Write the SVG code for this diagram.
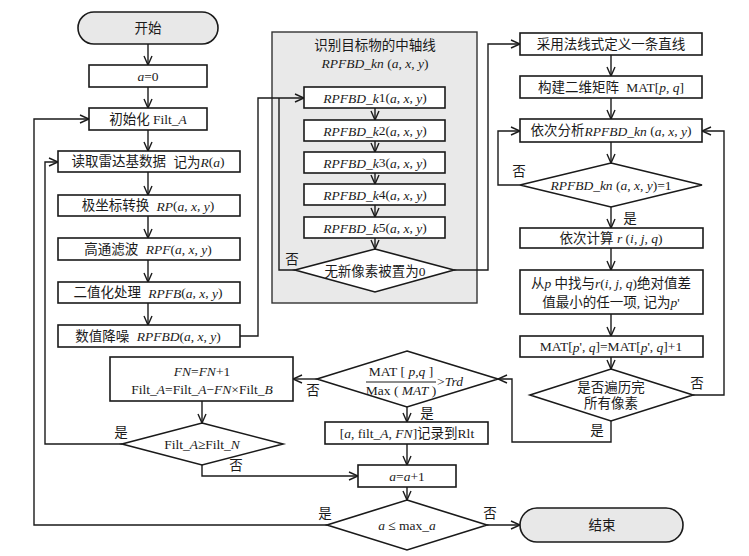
<svg xmlns="http://www.w3.org/2000/svg" width="749" height="556" viewBox="0 0 749 556">
<style>
text{font-family:"Liberation Serif","Noto Sans CJK SC",serif;font-size:13.5px;fill:#1a1a1a;text-anchor:middle;dominant-baseline:central}
.i{font-style:italic}
.box{fill:#fff;stroke:#1a1a1a;stroke-width:1.6}
.term{fill:#e8e8e8;stroke:#1a1a1a;stroke-width:1.6}
.grp{fill:#e9e9e9;stroke:#333;stroke-width:1.4}
.ln{fill:none;stroke:#1a1a1a;stroke-width:1.4}
.ar{fill:none;stroke:#1a1a1a;stroke-width:1.4;marker-end:url(#a)}
</style>
<defs>
<marker id="a" viewBox="0 0 10 10" refX="10" refY="5" markerWidth="10" markerHeight="10" markerUnits="userSpaceOnUse" orient="auto">
<path d="M1,1 L10,5 L1,9" fill="none" stroke="#1a1a1a" stroke-width="1.4"/>
</marker>
</defs>
<rect class="grp" x="272" y="32" width="205" height="271"/>
<g id="start"><rect class="term" x="78" y="12" width="140" height="32" rx="16"/><text x="148" y="28">开始</text></g>
<g id="a0"><rect class="box" x="89" y="65" width="118" height="22"/><text x="148" y="76"><tspan class="i">a</tspan>=0</text></g>
<g id="init"><rect class="box" x="89" y="108" width="118" height="22"/><text x="148" y="119">初始化 Filt_<tspan class="i">A</tspan></text></g>
<g id="read"><rect class="box" x="58" y="151" width="182" height="21"/><text x="148" y="161.5">读取雷达基数据 <tspan dx="4">记为</tspan><tspan class="i">R</tspan>(<tspan class="i">a</tspan>)</text></g>
<g id="polar"><rect class="box" x="58" y="195" width="182" height="21"/><text x="148" y="205.5">极坐标转换 <tspan dx="4" class="i">RP</tspan>(<tspan class="i">a</tspan>, <tspan class="i">x</tspan>, <tspan class="i">y</tspan>)</text></g>
<g id="hpf"><rect class="box" x="58" y="238" width="182" height="22"/><text x="148" y="249">高通滤波 <tspan dx="4" class="i">RPF</tspan>(<tspan class="i">a</tspan>, <tspan class="i">x</tspan>, <tspan class="i">y</tspan>)</text></g>
<g id="bin"><rect class="box" x="58" y="282" width="182" height="21"/><text x="148" y="292.5">二值化处理 <tspan dx="4" class="i">RPFB</tspan>(<tspan class="i">a</tspan>, <tspan class="i">x</tspan>, <tspan class="i">y</tspan>)</text></g>
<g id="denoise"><rect class="box" x="58" y="325" width="182" height="22"/><text x="148" y="336">数值降噪 <tspan dx="4" class="i">RPFBD</tspan>(<tspan class="i">a</tspan>, <tspan class="i">x</tspan>, <tspan class="i">y</tspan>)</text></g>
<g id="axis-title"><text x="375" y="45">识别目标物的中轴线</text><text x="375" y="63"><tspan class="i">RPFBD_kn</tspan> (<tspan class="i">a</tspan>, <tspan class="i">x</tspan>, <tspan class="i">y</tspan>)</text></g>
<g id="k1"><rect class="box" x="304" y="87" width="141" height="21"/><text x="375" y="97.5"><tspan class="i">RPFBD_k</tspan>1(<tspan class="i">a</tspan>, <tspan class="i">x</tspan>, <tspan class="i">y</tspan>)</text></g>
<g id="k2"><rect class="box" x="304" y="120" width="141" height="21"/><text x="375" y="130.5"><tspan class="i">RPFBD_k</tspan>2(<tspan class="i">a</tspan>, <tspan class="i">x</tspan>, <tspan class="i">y</tspan>)</text></g>
<g id="k3"><rect class="box" x="304" y="152" width="141" height="21"/><text x="375" y="162.5"><tspan class="i">RPFBD_k</tspan>3(<tspan class="i">a</tspan>, <tspan class="i">x</tspan>, <tspan class="i">y</tspan>)</text></g>
<g id="k4"><rect class="box" x="304" y="184" width="141" height="21"/><text x="375" y="194.5"><tspan class="i">RPFBD_k</tspan>4(<tspan class="i">a</tspan>, <tspan class="i">x</tspan>, <tspan class="i">y</tspan>)</text></g>
<g id="k5"><rect class="box" x="304" y="217" width="141" height="21"/><text x="375" y="227.5"><tspan class="i">RPFBD_k</tspan>5(<tspan class="i">a</tspan>, <tspan class="i">x</tspan>, <tspan class="i">y</tspan>)</text></g>
<g id="nonew"><polygon class="box" points="375,249 454,270 375,292 295,270"/><text x="375" y="271">无新像素被置为0</text></g>
<g id="line"><rect class="box" x="520" y="33" width="182" height="22"/><text x="611" y="44">采用法线式定义一条直线</text></g>
<g id="mat"><rect class="box" x="520" y="76" width="182" height="22"/><text x="611" y="87">构建二维矩阵 <tspan dx="4">MAT[</tspan><tspan class="i">p</tspan>, <tspan class="i">q</tspan>]</text></g>
<g id="analyze"><rect class="box" x="520" y="119" width="182" height="23"/><text x="611" y="130.5">依次分析<tspan class="i">RPFBD_kn</tspan> (<tspan class="i">a</tspan>, <tspan class="i">x</tspan>, <tspan class="i">y</tspan>)</text></g>
<g id="is1"><polygon class="box" points="611,163 702,185 611,207 520,185"/><text x="611" y="185"><tspan class="i">RPFBD_kn</tspan> (<tspan class="i">a</tspan>, <tspan class="i">x</tspan>, <tspan class="i">y</tspan>)=1</text></g>
<g id="calc"><rect class="box" x="520" y="228" width="183" height="20"/><text x="611" y="238">依次计算 <tspan class="i">r</tspan> (<tspan class="i">i</tspan>, <tspan class="i">j</tspan>, <tspan class="i">q</tspan>)</text></g>
<g id="find"><rect class="box" x="520" y="270" width="183" height="44"/><text x="611" y="283">从<tspan class="i">p</tspan> 中找与<tspan class="i">r</tspan>(<tspan class="i">i</tspan>, <tspan class="i">j</tspan>, <tspan class="i">q</tspan>)绝对值差</text><text x="611" y="302">值最小的任一项, 记为<tspan class="i">p</tspan>'</text></g>
<g id="inc"><rect class="box" x="520" y="336" width="183" height="21"/><text x="611" y="346.5">MAT[<tspan class="i">p</tspan>', <tspan class="i">q</tspan>]=MAT[<tspan class="i">p</tspan>', <tspan class="i">q</tspan>]+1</text></g>
<g id="all"><polygon class="box" points="611,369 693,395 611,421 530,395"/><text x="611" y="387">是否遍历完</text><text x="611" y="403">所有像素</text></g>
<g id="ratio"><polygon class="box" points="407,351 498,379 407,407 317,379"/><text x="401" y="371">MAT [ <tspan class="i">p</tspan>,<tspan class="i">q</tspan> ]</text><line x1="366" y1="382" x2="436" y2="382" stroke="#1a1a1a" stroke-width="1"/><text x="401" y="390">Max ( <tspan class="i">MAT</tspan> )</text><text x="437" y="381" style="text-anchor:start">&gt;<tspan class="i">Trd</tspan></text></g>
<g id="rec"><rect class="box" x="325" y="422" width="163" height="22"/><text x="407" y="433">[<tspan class="i">a</tspan>, filt_<tspan class="i">A</tspan>, <tspan class="i">FN</tspan>]记录到Rlt</text></g>
<g id="ainc"><rect class="box" x="358" y="465" width="98" height="22"/><text x="407" y="476"><tspan class="i">a</tspan>=<tspan class="i">a</tspan>+1</text></g>
<g id="amax"><polygon class="box" points="407,500 487,525 407,550 327,525"/><text x="407" y="525"><tspan class="i">a</tspan> ≤ max_<tspan class="i">a</tspan></text></g>
<g id="end"><rect class="term" x="520" y="508" width="163" height="34" rx="17"/><text x="602" y="525">结束</text></g>
<g id="fn"><rect class="box" x="110" y="357" width="183" height="44"/><text x="202" y="371"><tspan class="i">FN</tspan>=<tspan class="i">FN</tspan>+1</text><text x="202" y="389">Filt_<tspan class="i">A</tspan>=Filt_<tspan class="i">A</tspan>−<tspan class="i">FN</tspan>×Filt_<tspan class="i">B</tspan></text></g>
<g id="filt"><polygon class="box" points="202,423 283,444 202,465 122,444"/><text x="202" y="444">Filt_<tspan class="i">A</tspan>≥Filt_<tspan class="i">N</tspan></text></g>
<g id="connectors">
<path class="ar" d="M148,44V65"/>
<path class="ar" d="M148,87V108"/>
<path class="ar" d="M148,130V151"/>
<path class="ar" d="M148,172V195"/>
<path class="ar" d="M148,216V238"/>
<path class="ar" d="M148,260V282"/>
<path class="ar" d="M148,303V325"/>
<path class="ar" d="M240,336H258V98H304"/>
<path class="ar" d="M375,108V120"/>
<path class="ar" d="M375,141V152"/>
<path class="ar" d="M375,173V184"/>
<path class="ar" d="M375,205V217"/>
<path class="ar" d="M375,238V249"/>
<path class="ln" d="M295,270H279V98"/>
<path class="ar" d="M454,270H488V44H520"/>
<path class="ar" d="M611,55V76"/>
<path class="ar" d="M611,98V119"/>
<path class="ar" d="M611,142V163"/>
<path class="ar" d="M520,185H498V131H520"/>
<path class="ar" d="M611,207V228"/>
<path class="ar" d="M611,248V270"/>
<path class="ar" d="M611,314V336"/>
<path class="ar" d="M611,357V369"/>
<path class="ar" d="M693,395H724V131H702"/>
<path class="ar" d="M611,421V442H512V379H498"/>
<path class="ar" d="M317,379H293"/>
<path class="ar" d="M407,407V422"/>
<path class="ar" d="M407,444V465"/>
<path class="ar" d="M407,487V500"/>
<path class="ar" d="M202,401V423"/>
<path class="ar" d="M122,444H45V162H58"/>
<path class="ar" d="M202,465V476H358"/>
<path class="ar" d="M327,525H34V119H89"/>
<path class="ar" d="M487,525H520"/>
</g>
<g id="labels">
<text x="292" y="259">否</text>
<text x="519" y="171">否</text>
<text x="630" y="218">是</text>
<text x="697" y="383">否</text>
<text x="597" y="430">是</text>
<text x="313" y="390">否</text>
<text x="427" y="413">是</text>
<text x="121" y="432">是</text>
<text x="236" y="465">否</text>
<text x="325" y="513">是</text>
<text x="490" y="513">否</text>
</g>
</svg>
